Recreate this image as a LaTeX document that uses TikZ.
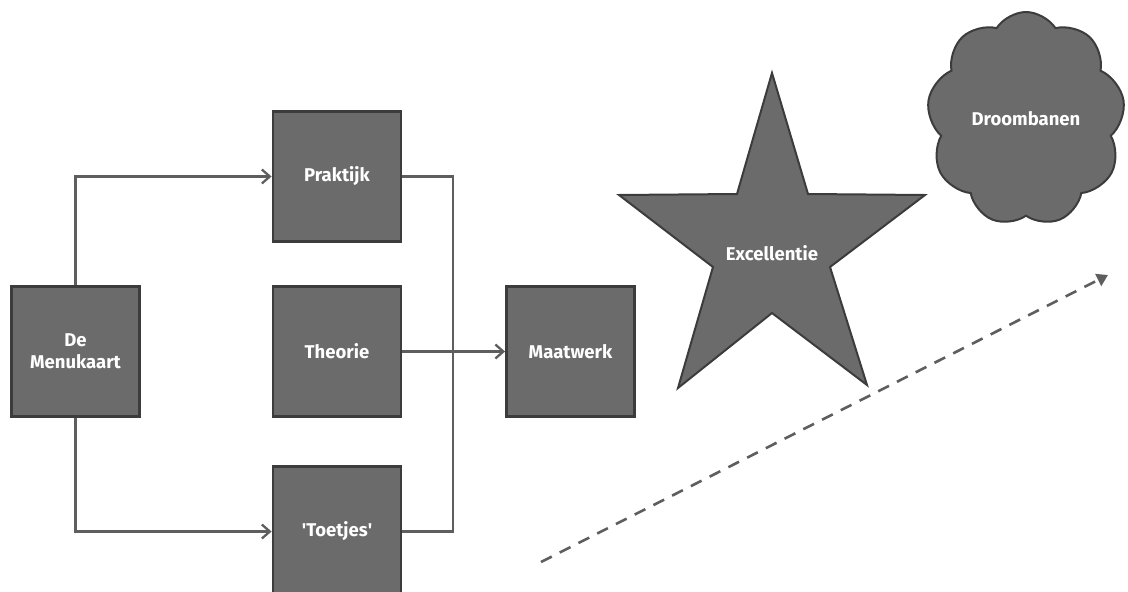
\documentclass[tikz,border=0pt]{standalone}
\usepackage{fontspec}
\setmainfont{Fira Sans}
\usetikzlibrary{arrows.meta,shapes.symbols}
\definecolor{boxfill}{HTML}{6B6B6B}
\definecolor{boxline}{HTML}{3C3C3C}
\definecolor{conn}{HTML}{5E5E5E}
\tikzset{
  lbl/.style={text=white, font=\fontsize{18.5}{22}\selectfont\bfseries, align=center},
  box/.style={lbl, draw=boxline, fill=boxfill, line width=2.8pt, minimum width=128pt, minimum height=130pt,
    inner sep=0pt},
  conn/.style={draw=conn, line width=2.3pt},
  arr/.style={conn, -{Straight Barb[length=8pt,width=14pt,line width=2.3pt]}},
}
\begin{document}
\begin{tikzpicture}[x=1pt,y=-1pt]
\useasboundingbox (0,0) rectangle (1128,592);
\begin{scope}
\clip (0,0) rectangle (1128,592);
\node[box] (menu) at (75.5,351.5) {De\\Menukaart};
\node[box] (prak) at (337,176.5) {Praktijk};
\node[box] (theo) at (337,351.5) {Theorie};
\node[box] (toet) at (337,531.5) {\textquotesingle Toetjes\textquotesingle};
\node[box] (maat) at (570.5,351.5) {Maatwerk};
\end{scope}
\coordinate (j1) at (453,176.5);
\coordinate (j2) at (453,531.5);
\draw[arr] (menu.north) |- (prak.west);
\draw[arr] (menu.south) |- (toet.west);
\draw[arr] (theo.east) -- (maat.west);
\draw[conn] (prak.east) -- (j1) -- (j2) -- (toet.east);
% star
\draw[draw=boxline, fill=boxfill, line width=2pt, line join=miter]
  (772,73) -- (808,194) -- (925,195) -- (830,267) -- (867,385) -- (772,313)
  -- (678,388) -- (713,267) -- (619,195) -- (737,194) -- cycle;
\node[lbl] (exc) at (772,253) {Excellentie};
% cloud
\node[lbl, cloud, cloud puffs=9, cloud puff arc=115, aspect=1, draw=boxline, fill=boxfill, line width=2pt,
  minimum width=198pt, minimum height=214pt, inner sep=0pt] (droom) at (1026,119) {Droombanen};
% dashed arrow
\coordinate (ds) at (541,562);
\coordinate (de) at (1108,275);
\draw[draw=conn, line width=2.6pt, dash pattern=on 12pt off 9pt, -{Triangle[length=11pt,width=13pt]}] (ds) -- (de);
\end{tikzpicture}
\end{document}
